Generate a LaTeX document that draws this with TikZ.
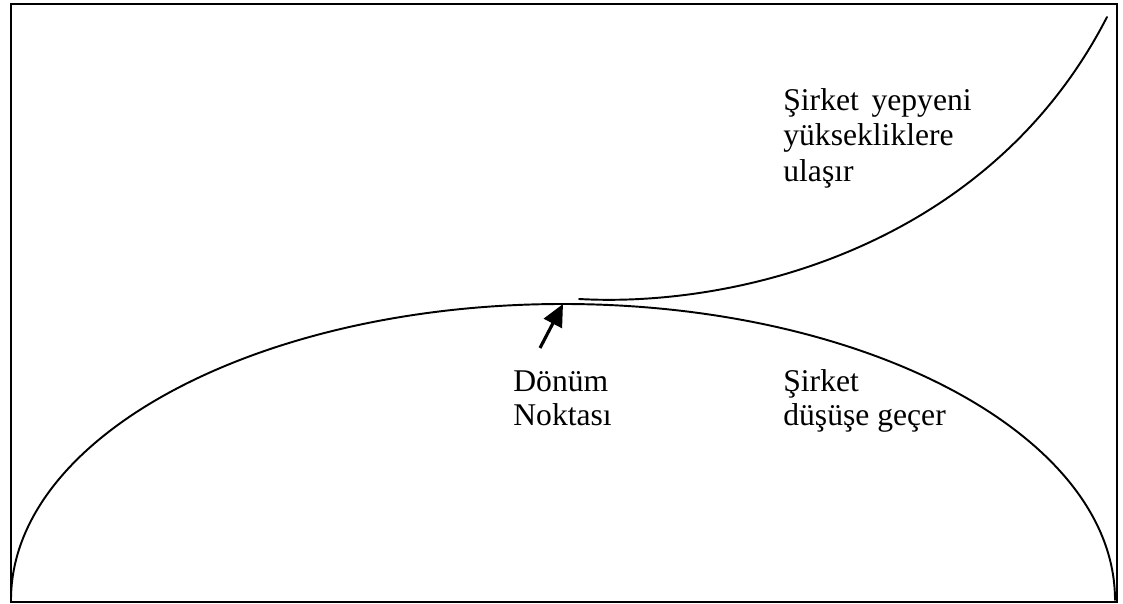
\documentclass[tikz,border=0pt]{standalone}
\usepackage{fontspec}
\setmainfont{Liberation Serif}
\usetikzlibrary{arrows.meta}

\begin{document}
\begin{tikzpicture}[
      x=0.02cm,y=-0.02cm,
      >={Triangle[length=4.4mm,width=4mm]},
      curve/.style={line width=1.1pt,line cap=round},
      lbl/.style={anchor=base west,inner sep=0pt,
        font=\fontsize{18}{20}\selectfont}
    ]
    \useasboundingbox (0,0) rectangle (1123,604);
    \draw[line width=1.2pt] (11,4) rectangle (1117,602);

    % the old curve and the new one that leaves it at the top
    \coordinate (start) at (11,600);
    \coordinate (peak) at (563,304);
    \coordinate (fork) at (579,299);
    \coordinate (top) at (1107,17);
    \draw[curve] (start) arc[start angle=180,end angle=360,
      x radius=552,y radius=296];
    \draw[curve] (fork) .. controls (740,308) and (990,245) .. (top);

    \coordinate (tail) at (540,348);
    \draw[->,line width=1.8pt] (tail) -- (peak);

    \node[lbl] (up1) at (783,111) {Şirket\hspace{0.4em}yepyeni};
    \node[lbl] (up2) at (783,146) {yüksekliklere};
    \node[lbl] (up3) at (783,182) {ulaşır};

    \node[lbl] (turn1) at (513,392) {Dönüm};
    \node[lbl] (turn2) at (513,426) {Noktası};

    \node[lbl] (down1) at (783,392) {Şirket};
    \node[lbl] (down2) at (783,426) {düşüşe geçer};
  \end{tikzpicture}
\end{document}
